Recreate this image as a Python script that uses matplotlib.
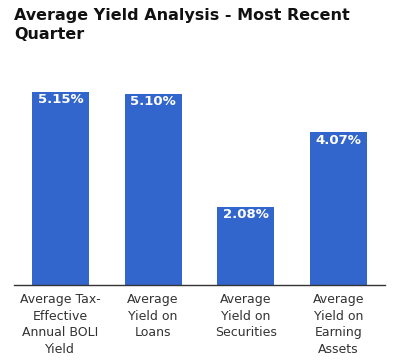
import matplotlib
matplotlib.use('Agg')
import matplotlib.pyplot as plt

# data
categories = ['Average Tax-\nEffective\nAnnual BOLI\nYield',
              'Average\nYield on\nLoans',
              'Average\nYield on\nSecurities',
              'Average\nYield on\nEarning\nAssets']
values = [5.15, 5.10, 2.08, 4.07]
value_labels = ['5.15%', '5.10%', '2.08%', '4.07%']

fig = plt.figure(figsize=(3.98, 3.62), dpi=100)
ax = fig.add_axes([14/398, 77/362, 371/398, 225/362])

x = list(range(len(values)))
bars = ax.bar(x, values, width=0.615, color='#3366CC')

for b, lab in zip(bars, value_labels):
    ax.text(b.get_x() + b.get_width()/2, b.get_height() - 0.03, lab,
            ha='center', va='top', color='white', fontsize=9.5, fontweight='bold')

ax.set_xlim(-0.5, len(values) - 0.5)
ax.set_ylim(0, 6.0)
ax.set_yticks([])
ax.set_xticks(x)
ax.set_xticklabels(categories, fontsize=9, color='#333333', linespacing=1.35)
ax.tick_params(axis='x', length=0, pad=6)
for s in ['top', 'right', 'left']:
    ax.spines[s].set_visible(False)
ax.spines['bottom'].set_color('#333333')
ax.spines['bottom'].set_linewidth(1)

fig.text(14/398, 1 - 8/362, 'Average Yield Analysis - Most Recent\nQuarter',
         ha='left', va='top', fontsize=11.5, fontweight='bold', color='#111111',
         linespacing=1.3)

fig.savefig('out.png', dpi=100)
